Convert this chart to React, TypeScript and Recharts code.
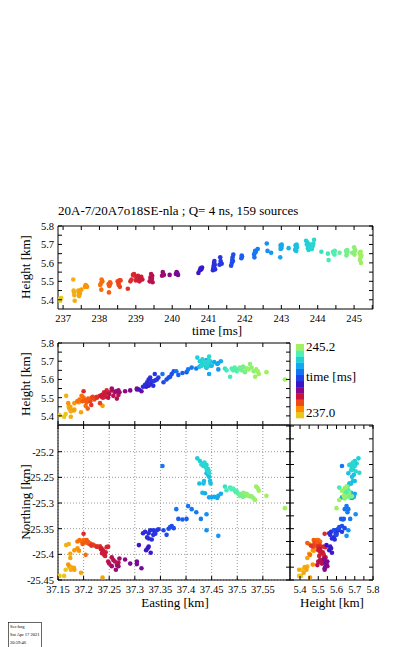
import React from "react";
import { ScatterChart, Scatter, XAxis, YAxis, CartesianGrid } from "recharts";

// source times [ms], one line per burst of sources
const TIME_MS = [
  236.9, 236.92, 236.95,
  237.28, 237.29, 237.3, 237.31, 237.32, 237.42, 237.43, 237.45, 237.46, 237.44, 237.5, 237.6, 237.62, 237.64, 237.66,
  238.02, 238.04, 238.06, 238.05, 238.08, 238.25, 238.27, 238.28, 238.26, 238.3, 238.5, 238.52, 238.55, 238.53, 238.56, 238.58, 238.29,
  238.78, 238.85, 238.88, 238.92, 238.95, 238.97, 239.0, 239.02, 239.04, 239.06, 239.08, 239.1, 239.12, 239.15, 239.18,
  239.38, 239.4, 239.42, 239.43, 239.45, 239.46, 239.44,
  239.72, 239.74, 239.75, 239.77, 239.93, 240.1, 240.12, 240.14, 240.16,
  240.72, 240.76, 240.78, 240.8, 240.82, 241.12, 241.13, 241.14, 241.15, 241.16, 241.17, 241.15, 241.18, 241.3, 241.32, 241.34, 241.33, 241.36,
  241.62, 241.64, 241.65, 241.66, 241.68, 241.67, 241.9, 241.92, 241.91,
  242.25, 242.27, 242.28, 242.26, 242.3, 242.35, 242.6, 242.62, 242.72,
  242.97, 242.98, 242.99, 243.0, 243.01, 242.98, 243.0,
  243.2, 243.38, 243.4, 243.41, 243.42, 243.4, 243.39, 243.43, 243.41,
  243.68, 243.7, 243.72, 243.73, 243.74, 243.75, 243.76, 243.78, 243.8, 243.82, 243.85, 243.88, 243.86, 243.84, 243.9,
  244.1, 244.28, 244.3, 244.42, 244.45, 244.47, 244.46, 244.6, 244.78, 244.8, 244.79, 244.82, 244.95, 245.0, 245.02, 245.01, 245.03, 245.15, 245.17, 245.18, 245.16, 245.19, 245.2, 245.18, 244.44, 244.81,
];

const HEIGHT_KM = [
  5.405, 5.395, 5.41,
  5.51, 5.45, 5.44, 5.425, 5.395, 5.45, 5.44, 5.43, 5.435, 5.42, 5.455, 5.47, 5.48, 5.475, 5.47,
  5.48, 5.49, 5.51, 5.455, 5.5, 5.485, 5.475, 5.48, 5.44, 5.49, 5.5, 5.49, 5.505, 5.48, 5.47, 5.505, 5.495,
  5.46, 5.5, 5.51, 5.535, 5.54, 5.53, 5.505, 5.51, 5.52, 5.53, 5.505, 5.5, 5.515, 5.525, 5.51,
  5.5, 5.52, 5.54, 5.51, 5.53, 5.495, 5.515,
  5.53, 5.55, 5.54, 5.535, 5.535, 5.54, 5.55, 5.545, 5.535,
  5.545, 5.56, 5.57, 5.565, 5.575, 5.56, 5.57, 5.585, 5.6, 5.61, 5.59, 5.575, 5.565, 5.59, 5.63, 5.6, 5.61, 5.595,
  5.585, 5.6, 5.615, 5.63, 5.645, 5.61, 5.625, 5.635, 5.64,
  5.645, 5.655, 5.665, 5.63, 5.66, 5.675, 5.705, 5.665, 5.655,
  5.63, 5.675, 5.685, 5.69, 5.7, 5.695, 5.68,
  5.68, 5.67, 5.68, 5.69, 5.7, 5.675, 5.695, 5.685, 5.665,
  5.72, 5.7, 5.71, 5.68, 5.695, 5.67, 5.685, 5.69, 5.7, 5.68, 5.695, 5.705, 5.69, 5.675, 5.725,
  5.66, 5.65, 5.615, 5.66, 5.65, 5.665, 5.645, 5.655, 5.665, 5.65, 5.64, 5.66, 5.655, 5.685, 5.665, 5.645, 5.67, 5.655, 5.645, 5.63, 5.615, 5.6, 5.64, 5.66, 5.655, 5.67,
];

const EASTING_KM = [
  37.153, 37.162, 37.165,
  37.166, 37.171, 37.172, 37.175, 37.175, 37.174, 37.174, 37.181, 37.182, 37.195, 37.237, 37.182, 37.188, 37.191, 37.17,
  37.188, 37.192, 37.196, 37.204, 37.2, 37.203, 37.206, 37.198, 37.208, 37.211, 37.216, 37.221, 37.226, 37.213, 37.232, 37.218, 37.209,
  37.215, 37.226, 37.232, 37.2, 37.245, 37.248, 37.235, 37.237, 37.239, 37.24, 37.242, 37.238, 37.236, 37.243, 37.234,
  37.248, 37.25, 37.255, 37.258, 37.261, 37.265, 37.268,
  37.27, 37.255, 37.268, 37.263, 37.281, 37.291, 37.304, 37.304, 37.313,
  37.308, 37.322, 37.325, 37.327, 37.331, 37.316, 37.32, 37.324, 37.327, 37.33, 37.333, 37.327, 37.336, 37.336, 37.339, 37.343, 37.346, 37.34,
  37.356, 37.362, 37.369, 37.372, 37.376, 37.366, 37.385, 37.393, 37.401,
  37.381, 37.404, 37.411, 37.354, 37.42, 37.429, 37.44, 37.44, 37.463,
  37.445, 37.45, 37.461, 37.463, 37.468, 37.455, 37.437,
  37.432, 37.426, 37.434, 37.435, 37.447, 37.448, 37.443, 37.445, 37.44,
  37.422, 37.427, 37.432, 37.435, 37.437, 37.44, 37.439, 37.443, 37.434, 37.441, 37.438, 37.444, 37.436, 37.43, 37.445,
  37.476, 37.479, 37.486, 37.489, 37.492, 37.495, 37.499, 37.502, 37.505, 37.509, 37.515, 37.518, 37.522, 37.525, 37.528, 37.532, 37.512, 37.537, 37.54, 37.542, 37.535, 37.593, 37.557, 37.52, 37.497, 37.511,
];

const NORTHING_KM = [
  -25.442, -25.442, -25.43,
  -25.382, -25.38, -25.424, -25.425, -25.43, -25.399, -25.407, -25.426, -25.43, -25.436, -25.445, -25.392, -25.388, -25.393, -25.42,
  -25.375, -25.372, -25.375, -25.401, -25.372, -25.377, -25.372, -25.38, -25.378, -25.38, -25.382, -25.383, -25.385, -25.379, -25.385, -25.381, -25.376,
  -25.383, -25.385, -25.385, -25.36, -25.386, -25.385, -25.388, -25.395, -25.398, -25.401, -25.403, -25.392, -25.398, -25.396, -25.39,
  -25.414, -25.418, -25.406, -25.411, -25.414, -25.421, -25.416,
  -25.408, -25.423, -25.423, -25.43, -25.41, -25.418, -25.414, -25.419, -25.427,
  -25.382, -25.392, -25.388, -25.385, -25.397, -25.359, -25.356, -25.367, -25.359, -25.353, -25.371, -25.369, -25.362, -25.353, -25.356, -25.353, -25.351, -25.36,
  -25.353, -25.362, -25.347, -25.345, -25.349, -25.35, -25.331, -25.332, -25.331,
  -25.312, -25.306, -25.312, -25.228, -25.318, -25.331, -25.322, -25.353, -25.364,
  -25.289, -25.289, -25.29, -25.286, -25.282, -25.288, -25.281,
  -25.28, -25.262, -25.262, -25.257, -25.257, -25.262, -25.245, -25.249, -25.242,
  -25.213, -25.218, -25.223, -25.226, -25.227, -25.226, -25.231, -25.234, -25.228, -25.236, -25.229, -25.238, -25.221, -25.225, -25.241,
  -25.268, -25.275, -25.27, -25.273, -25.272, -25.275, -25.277, -25.282, -25.286, -25.282, -25.286, -25.282, -25.286, -25.287, -25.287, -25.291, -25.28, -25.268, -25.271, -25.276, -25.294, -25.31, -25.286, -25.284, -25.279, -25.288,
];

const TIME_TICKS = [237, 237.5, 238, 238.5, 239, 239.5, 240, 240.5, 241, 241.5, 242, 242.5, 243, 243.5, 244, 244.5, 245, 245.5];
const HEIGHT_TICKS = [5.4, 5.45, 5.5, 5.55, 5.6, 5.65, 5.7, 5.75, 5.8];
const EASTING_TICKS = [37.15, 37.2, 37.25, 37.3, 37.35, 37.4, 37.45, 37.5, 37.55];
const NORTHING_TICKS = [-25.45, -25.4, -25.35, -25.3, -25.25, -25.2];
const NORTHING_MINOR = [-25.45, -25.425, -25.4, -25.375, -25.35, -25.325, -25.3, -25.275, -25.25, -25.225, -25.2, -25.175, -25.15];

const CB_MIN = 237.0;
const CB_MAX = 245.2;
// gnuplot-like rainbow, bottom (early) to top (late)
const PALETTE = ["#e8c81c", "#ff8c00", "#f04818", "#c8143c", "#880888", "#3c14c8", "#2040e8", "#1474f4", "#14a8f0", "#20d0d8", "#50f0b0", "#a0f060"];

const SERIF = '"Liberation Serif", "Times New Roman", serif';
const TICK_LEN = 4;
const PAD = 10;
const TICK_FONT = 10.5;

function hexToRgb(h: string) {
  const n = parseInt(h.slice(1), 16);
  return [(n >> 16) & 255, (n >> 8) & 255, n & 255];
}

function timeColor(t: number) {
  const f = Math.min(1, Math.max(0, (t - CB_MIN) / (CB_MAX - CB_MIN))) * (PALETTE.length - 1);
  const i = Math.floor(f);
  const j = Math.min(i + 1, PALETTE.length - 1);
  const a = hexToRgb(PALETTE[i]);
  const b = hexToRgb(PALETTE[j]);
  const k = f - i;
  const c = a.map((v, idx) => Math.round(v + (b[idx] - v) * k));
  return `rgb(${c[0]},${c[1]},${c[2]})`;
}

type Row = { t: number; h: number; e: number; n: number; color: string };

const rows: Row[] = TIME_MS.map((t, i) => ({
  t,
  h: HEIGHT_KM[i],
  e: EASTING_KM[i],
  n: NORTHING_KM[i],
  color: timeColor(t),
}));

const near = (v: number, step: number) => Math.abs(v / step - Math.round(v / step)) < 1e-6;
const fmtTime = (v: number) => (near(v, 1) ? String(Math.round(v)) : null);
const fmtHeight = (v: number) => (near(v, 0.1) ? v.toFixed(1) : null);
const fmtEast = (v: number) => String(+v.toFixed(2));
const fmtNorth = (v: number) => (near(v, 0.05) ? String(+v.toFixed(2)) : null);

type Fmt = ((v: number) => string | null) | null;

const bottomTick = (fmt: Fmt) => (p: any) => {
  const label = fmt ? fmt(p.payload.value) : null;
  return (
    <g>
      <line x1={p.x} x2={p.x} y1={p.y} y2={p.y - TICK_LEN} stroke="#000" />
      {label !== null && (
        <text x={p.x} y={p.y + 13} textAnchor="middle" fontSize={TICK_FONT} fontFamily={SERIF} fill="#000">
          {label}
        </text>
      )}
    </g>
  );
};

const topTick = () => (p: any) => (
  <line x1={p.x} x2={p.x} y1={p.y} y2={p.y + TICK_LEN} stroke="#000" />
);

const leftTick = (fmt: Fmt) => (p: any) => {
  const label = fmt ? fmt(p.payload.value) : null;
  return (
    <g>
      <line x1={p.x} x2={p.x + TICK_LEN} y1={p.y} y2={p.y} stroke="#000" />
      {label !== null && (
        <text x={p.x - 4} y={p.y + 4} textAnchor="end" fontSize={TICK_FONT} fontFamily={SERIF} fill="#000">
          {label}
        </text>
      )}
    </g>
  );
};

const rightTick = () => (p: any) => (
  <line x1={p.x} x2={p.x - TICK_LEN} y1={p.y} y2={p.y} stroke="#000" />
);

type PanelProps = {
  plotLeft: number;
  plotTop: number;
  plotW: number;
  plotH: number;
  xKey: keyof Row;
  yKey: keyof Row;
  xDomain: [number, number];
  yDomain: [number, number];
  xTicks: number[];
  yTicks: number[];
  yMirrorTicks?: number[];
  xFmt: Fmt;
  yFmt: Fmt;
  grid?: boolean;
};

function Panel(props: PanelProps) {
  const { plotLeft, plotTop, plotW, plotH, xKey, yKey, xDomain, yDomain, xTicks, yTicks, xFmt, yFmt, grid } = props;
  // axes thinner than 1px are not drawn by recharts, so the mirror axes get 1px
  const leftW = yFmt ? 48 : 1;
  const bottomH = xFmt ? 22 : 1;
  const width = PAD + leftW + plotW + PAD;
  const height = PAD + plotH + bottomH + PAD;
  const axisCommon = {
    type: "number" as const,
    allowDataOverflow: true,
    interval: 0 as const,
    tickSize: 0,
    tickMargin: 0,
    tickLine: false,
    axisLine: { stroke: "#000" },
  };
  return (
    <div style={{ position: "absolute", left: plotLeft - leftW - PAD, top: plotTop - PAD, width, height }}>
      <ScatterChart width={width} height={height} margin={{ top: PAD - 1, right: PAD - 1, bottom: PAD, left: PAD }}>
        {grid && <CartesianGrid xAxisId="b" yAxisId="l" stroke="#9a9a9a" strokeDasharray="1 2" />}
        <XAxis {...axisCommon} xAxisId="b" dataKey={xKey} domain={xDomain} ticks={xTicks} height={bottomH} tick={bottomTick(xFmt)} />
        <XAxis {...axisCommon} xAxisId="t" orientation="top" dataKey={xKey} domain={xDomain} ticks={xTicks} height={1} tick={topTick()} />
        <YAxis {...axisCommon} yAxisId="l" dataKey={yKey} domain={yDomain} ticks={yTicks} width={leftW} tick={leftTick(yFmt)} />
        <YAxis
          {...axisCommon}
          yAxisId="r"
          orientation="right"
          dataKey={yKey}
          domain={yDomain}
          ticks={props.yMirrorTicks ?? yTicks}
          width={1}
          tick={rightTick()}
        />
        {/* invisible series so the mirrored frame axes get drawn */}
        <Scatter xAxisId="t" yAxisId="r" data={rows} isAnimationActive={false} shape={() => <g />} />
        <Scatter
          xAxisId="b"
          yAxisId="l"
          data={rows}
          isAnimationActive={false}
          shape={(s: any) => <circle cx={s.cx} cy={s.cy} r={2.3} fill={s.payload.color} />}
        />
      </ScatterChart>
    </div>
  );
}

function Labels() {
  const cbTop = 344;
  const cbH = 74;
  const band = cbH / PALETTE.length;
  return (
    <svg
      width={407}
      height={647}
      style={{ position: "absolute", left: 0, top: 0, pointerEvents: "none" }}
      fontFamily={SERIF}
    >
      <text x={58} y={215} fontSize={13}>
        20A-7/20A7o18SE-nla ; Q= 4 ns, 159 sources
      </text>
      <text x={217} y={335} fontSize={13} textAnchor="middle">time [ms]</text>
      <text transform="translate(30,267) rotate(-90)" fontSize={13} textAnchor="middle">Height [km]</text>
      <text transform="translate(30,384) rotate(-90)" fontSize={13} textAnchor="middle">Height [km]</text>
      <text transform="translate(30,502) rotate(-90)" fontSize={13} textAnchor="middle">Northing [km]</text>
      <text x={175} y={607} fontSize={13} textAnchor="middle">Easting [km]</text>
      <text x={332} y={607} fontSize={13} textAnchor="middle">Height [km]</text>

      {PALETTE.map((c, i) => (
        <rect key={c} x={296} y={cbTop + cbH - (i + 1) * band} width={8} height={band + 0.3} fill={c} />
      ))}
      <text x={306} y={351} fontSize={13}>245.2</text>
      <text x={306} y={381} fontSize={13}>time [ms]</text>
      <text x={306} y={417} fontSize={13}>237.0</text>

      <rect x={8.5} y={622.5} width={33} height={30} fill="none" stroke="#000" strokeWidth={0.6} />
      <text x={10} y={628} fontSize={4.5}>Sec:hog</text>
      <text x={10} y={636} fontSize={4.5}>Sat Apr 17 2021</text>
      <text x={10} y={644} fontSize={4.5}>20:59:46</text>
    </svg>
  );
}

export default function App() {
  return (
    <div style={{ position: "absolute", left: 0, top: 0, width: 407, height: 647, background: "#fff" }}>
      {/* time vs height */}
      <Panel
        plotLeft={58}
        plotTop={226}
        plotW={315}
        plotH={83}
        xKey="t"
        yKey="h"
        xDomain={[236.86, 245.52]}
        yDomain={[5.35, 5.8]}
        xTicks={TIME_TICKS}
        yTicks={HEIGHT_TICKS}
        xFmt={fmtTime}
        yFmt={fmtHeight}
      />
      {/* easting vs height */}
      <Panel
        plotLeft={58}
        plotTop={343}
        plotW={232}
        plotH={82}
        xKey="e"
        yKey="h"
        xDomain={[37.15, 37.603]}
        yDomain={[5.35, 5.8]}
        xTicks={EASTING_TICKS}
        yTicks={HEIGHT_TICKS}
        xFmt={null}
        yFmt={fmtHeight}
      />
      {/* easting vs northing */}
      <Panel
        plotLeft={58}
        plotTop={425}
        plotW={232}
        plotH={155}
        xKey="e"
        yKey="n"
        xDomain={[37.15, 37.603]}
        yDomain={[-25.45, -25.148]}
        xTicks={EASTING_TICKS}
        yTicks={NORTHING_TICKS}
        yMirrorTicks={NORTHING_MINOR}
        xFmt={fmtEast}
        yFmt={fmtNorth}
        grid
      />
      {/* height vs northing */}
      <Panel
        plotLeft={290}
        plotTop={425}
        plotW={83}
        plotH={155}
        xKey="h"
        yKey="n"
        xDomain={[5.345, 5.8]}
        yDomain={[-25.45, -25.148]}
        xTicks={HEIGHT_TICKS}
        yTicks={NORTHING_MINOR}
        xFmt={fmtHeight}
        yFmt={null}
      />
      <Labels />
    </div>
  );
}
